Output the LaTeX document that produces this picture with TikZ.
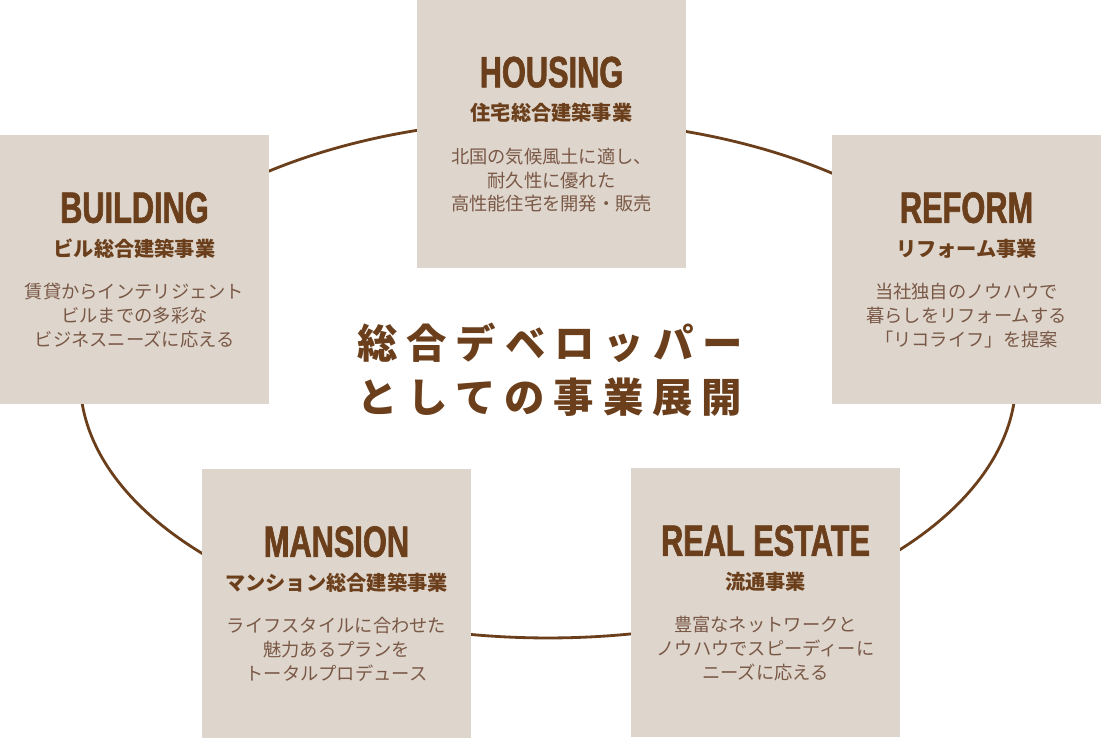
\documentclass[tikz,border=0pt]{standalone}
\usepackage{fontspec}
\newfontfamily\jpfont{Noto Sans CJK JP}
\newfontfamily\jpwide[LetterSpace=22]{Noto Sans CJK JP}
\newfontfamily\enfont[FakeStretch=0.70, BoldFeatures={FakeBold=1.4}]{Liberation Sans}
\definecolor{brn}{HTML}{6B3F1B}
\definecolor{bodybrn}{HTML}{7A5846}
\definecolor{boxfill}{HTML}{DED6CD}
\tikzset{
	bizbox/.style={draw=none, fill=boxfill, minimum width=5.38cm, minimum height=5.38cm, inner sep=0pt},
	entitle/.style={text=brn, font=\enfont\bfseries\fontsize{25}{26}\selectfont, inner sep=0pt},
	jpsub/.style={text=brn, font=\jpfont\bfseries\fontsize{11.5}{12}\selectfont, inner sep=0pt},
	bodytext/.style={text=bodybrn, font=\jpfont\fontsize{10.4}{13.6}\selectfont, align=center, inner sep=0pt},
	ring/.style={draw=brn, line width=1.6pt}
}
% one business field: name, centre, english title, japanese title, text
\newcommand{\bizfield}[6]{%
  \node[bizbox] (#1) at (#2) {};
  \node[entitle] (#1-en) at ([yshift=-1.46cm]#1.north) {#3};
  \node[jpsub] (#1-jp) at ([yshift=-2.28cm]#1.north) {#4};
  \node[bodytext] (#1-txt) at ([yshift=-3.62cm]#1.north) {#5\\#6};
}

\begin{document}
\begin{tikzpicture}[x=0.02cm,y=-0.02cm]
    \useasboundingbox (0,0) rectangle (1101,738);

    % ring behind the boxes
    \draw[ring] (548,379) ellipse [x radius=9.36cm, y radius=5.18cm];

    % five business fields
    \bizfield{housing}{551.5,134}{HOUSING}{住宅総合建築事業}{北国の気候風土に適し、\\耐久性に優れた}{高性能住宅を開発・販売}
    \bizfield{building}{134.5,269.5}{BUILDING}{ビル総合建築事業}{賃貸からインテリジェント\\ビルまでの多彩な}{ビジネスニーズに応える}
    \bizfield{reform}{966.5,269.5}{REFORM}{リフォーム事業}{当社独自のノウハウで\\暮らしをリフォームする}{「リコライフ」を提案}
    \bizfield{mansion}{336.5,603.5}{MANSION}{マンション総合建築事業}{ライフスタイルに合わせた\\魅力あるプランを}{トータルプロデュース}
    \bizfield{realestate}{765.5,602.5}{REAL ESTATE}{流通事業}{豊富なネットワークと\\ノウハウでスピーディーに}{ニーズに応える}

    % centre heading
    \node[text=brn, font=\jpwide\bfseries\fontsize{23}{30.6}\selectfont, align=center, inner sep=0pt]
      (head) at (550,370) {総合デベロッパー\\としての事業展開};
\end{tikzpicture}
\end{document}
